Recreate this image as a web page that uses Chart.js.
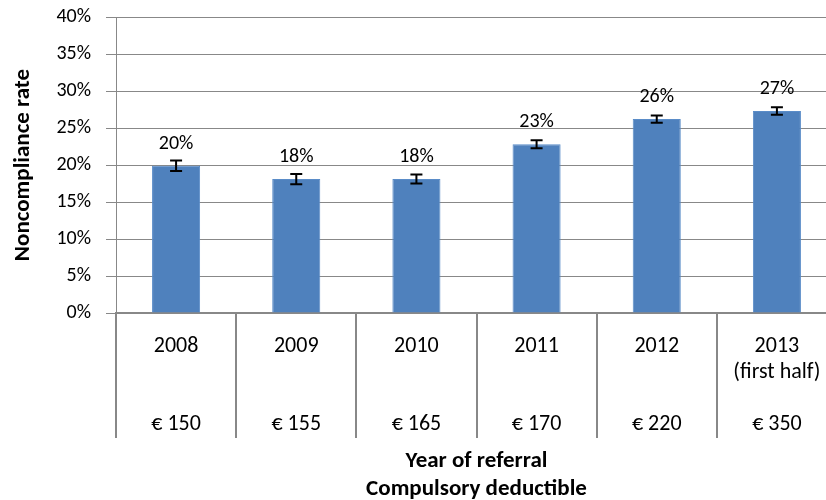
<!DOCTYPE html>
<html>
<head>
<meta charset="utf-8">
<script src="https://cdn.jsdelivr.net/npm/chart.js@4.4.1/dist/chart.umd.min.js"></script>
<style>
  html, body { margin: 0; padding: 0; background: #fff; overflow: hidden; }
  .wrap { width: 840px; height: 503px; }
</style>
</head>
<body>
<div class="wrap"><canvas id="chart"></canvas></div>
<script>
const years = ["2008", "2009", "2010", "2011", "2012", "2013"];
const notes = ["", "", "", "", "", "(first half)"];
const deductibles = ["€ 150", "€ 155", "€ 165", "€ 170", "€ 220", "€ 350"];
const rates = [19.9, 18.1, 18.1, 22.8, 26.2, 27.3];
const errors = [0.7, 0.7, 0.6, 0.55, 0.5, 0.5];
const rateLabels = ["20%", "18%", "18%", "23%", "26%", "27%"];

const FONT = "Carlito, Lato, sans-serif";
const GRID = "#888888";

const labels = years.map((y, i) => [y, notes[i], "", deductibles[i]]);

// error bars + value labels on top of each bar
const barExtras = {
  id: "barExtras",
  afterDatasetsDraw(chart) {
    const ctx = chart.ctx;
    const meta = chart.getDatasetMeta(0);
    const yScale = chart.scales.y;
    ctx.save();
    meta.data.forEach((bar, i) => {
      const hi = yScale.getPixelForValue(rates[i] + errors[i]);
      const lo = yScale.getPixelForValue(rates[i] - errors[i]);
      ctx.strokeStyle = "#000";
      ctx.lineWidth = 2;
      ctx.beginPath();
      ctx.moveTo(bar.x, hi);
      ctx.lineTo(bar.x, lo);
      ctx.moveTo(bar.x - 6, hi);
      ctx.lineTo(bar.x + 6, hi);
      ctx.moveTo(bar.x - 6, lo);
      ctx.lineTo(bar.x + 6, lo);
      ctx.stroke();

      ctx.fillStyle = "#000";
      ctx.font = "20px " + FONT;
      ctx.textAlign = "center";
      ctx.textBaseline = "alphabetic";
      ctx.fillText(rateLabels[i], bar.x, bar.y - 17);
    });
    ctx.restore();
  }
};

new Chart(document.getElementById("chart"), {
  type: "bar",
  data: {
    labels: labels,
    datasets: [{
      data: rates,
      backgroundColor: "#4F81BD",
      borderColor: "#5A8CC8",
      borderWidth: 1,
      categoryPercentage: 1,
      barPercentage: 0.4
    }]
  },
  options: {
    responsive: true,
    maintainAspectRatio: false,
    animation: false,
    layout: { padding: { top: 0, right: 3, left: 4, bottom: 0 } },
    plugins: {
      legend: { display: false },
      tooltip: { enabled: false }
    },
    scales: {
      y: {
        min: 0,
        max: 40,
        ticks: {
          stepSize: 5,
          padding: 15,
          color: "#000",
          font: { family: FONT, size: 20 },
          callback: v => v + "%"
        },
        grid: { color: GRID, tickLength: 10, lineWidth: 1 },
        border: { color: GRID, width: 1 },
        title: {
          display: true,
          text: "Noncompliance rate",
          color: "#000",
          font: { family: FONT, size: 23, weight: "bold" },
          padding: { top: 5, bottom: 0 }
        },
        afterFit(scale) {
          scale.width = 112;
          scale.paddingTop = 17;
          scale.paddingBottom = 0;
        }
      },
      x: {
        offset: true,
        grid: {
          offset: true,
          drawOnChartArea: false,
          drawTicks: true,
          tickLength: 125,
          color: GRID,
          lineWidth: 2
        },
        border: { color: GRID, width: 2 },
        ticks: {
          padding: -105,
          maxRotation: 0,
          autoSkip: false,
          color: "#000",
          font: { family: FONT, size: 22, lineHeight: "26px" }
        },
        title: {
          display: true,
          text: ["Year of referral", "Compulsory deductible"],
          color: "#000",
          font: { family: FONT, size: 23, weight: "bold", lineHeight: "28px" },
          padding: { top: 0, bottom: 0 }
        },
        afterFit(scale) { scale.height = 190; }
      }
    }
  },
  plugins: [barExtras]
});
</script>
</body>
</html>
